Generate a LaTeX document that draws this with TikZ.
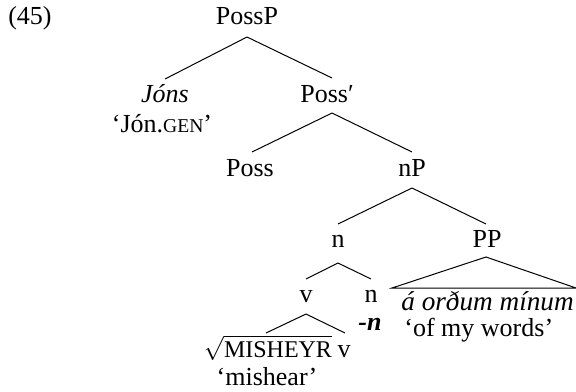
\documentclass[tikz,border=0pt]{standalone}
\usepackage{fontspec}
\setmainfont{Liberation Serif}
\usetikzlibrary{calc}
\begin{document}
\begin{tikzpicture}[x=0.5pt,y=-0.5pt,
  lab/.style={inner sep=0pt,anchor=base,font=\fontsize{13}{15}\selectfont},
  edge/.style={line width=0.5pt}]
\useasboundingbox (0,0) rectangle (576,391);
\node[lab] (ex) at (30,25) {(45)};
\node[lab] (PossP) at (247,25) {PossP};
\node[lab] (Jons) at (165,102) {\itshape Jóns};
\node[lab] (JonGen) at (162,132) {‘Jón.{\fontsize{9.8}{11}\selectfont GEN}’};
\node[lab] (Possp) at (327,102) {Poss′};
\node[lab] (Poss) at (250,176) {Poss};
\node[lab] (nP) at (412,176) {nP};
\node[lab] (n) at (338,247) {n};
\node[lab] (PP) at (487,247) {PP};
\node[lab] (v) at (306,302) {v};
\node[lab] (n2) at (371,302) {n};
\node[lab,font=\fontsize{12}{14}\selectfont] (root) at (268,357) {$\sqrt{\mbox{MISHEYR}}$};
\node[lab] (v2) at (344,357) {v};
\node[lab] (mishear) at (267,385) {‘mishear’};
\node[lab] (negn) at (370,330) {\bfseries\itshape -n};
\node[lab,anchor=base west,font=\fontsize{13.6}{15}\selectfont] (aord) at (401,310) {\itshape á orðum mínum};
\node[lab,anchor=base west] (ofmy) at (404,336) {‘of my words’};
\draw[edge] ($(PossP.base)+(0,12)$) -- ($(Jons.base)+(0,-23)$);
\draw[edge] ($(PossP.base)+(0,12)$) -- ($(Possp.base)+(5,-24)$);
\draw[edge] ($(Possp.base)+(5,11)$) -- ($(Poss.base)+(2,-24)$);
\draw[edge] ($(Possp.base)+(5,11)$) -- ($(nP.base)+(0,-24)$);
\draw[edge] ($(nP.base)+(0,12)$) -- ($(n.base)+(0,-23)$);
\draw[edge] ($(nP.base)+(0,12)$) -- ($(PP.base)+(-1,-23)$);
\draw[edge] ($(n.base)+(0,16)$) -- ($(v.base)+(0,-23)$);
\draw[edge] ($(n.base)+(0,16)$) -- ($(n2.base)+(0,-23)$);
\draw[edge] ($(v.base)+(0,12)$) -- ($(root.base)+(-2,-24)$);
\draw[edge] ($(v.base)+(0,12)$) -- ($(v2.base)+(1,-24)$);
\draw[edge] ($(PP.base)+(-1,10)$) -- ($(aord.base west)+(-9,-22)$) -- ($(aord.base west)+(175,-22)$) -- cycle;
\end{tikzpicture}
\end{document}
